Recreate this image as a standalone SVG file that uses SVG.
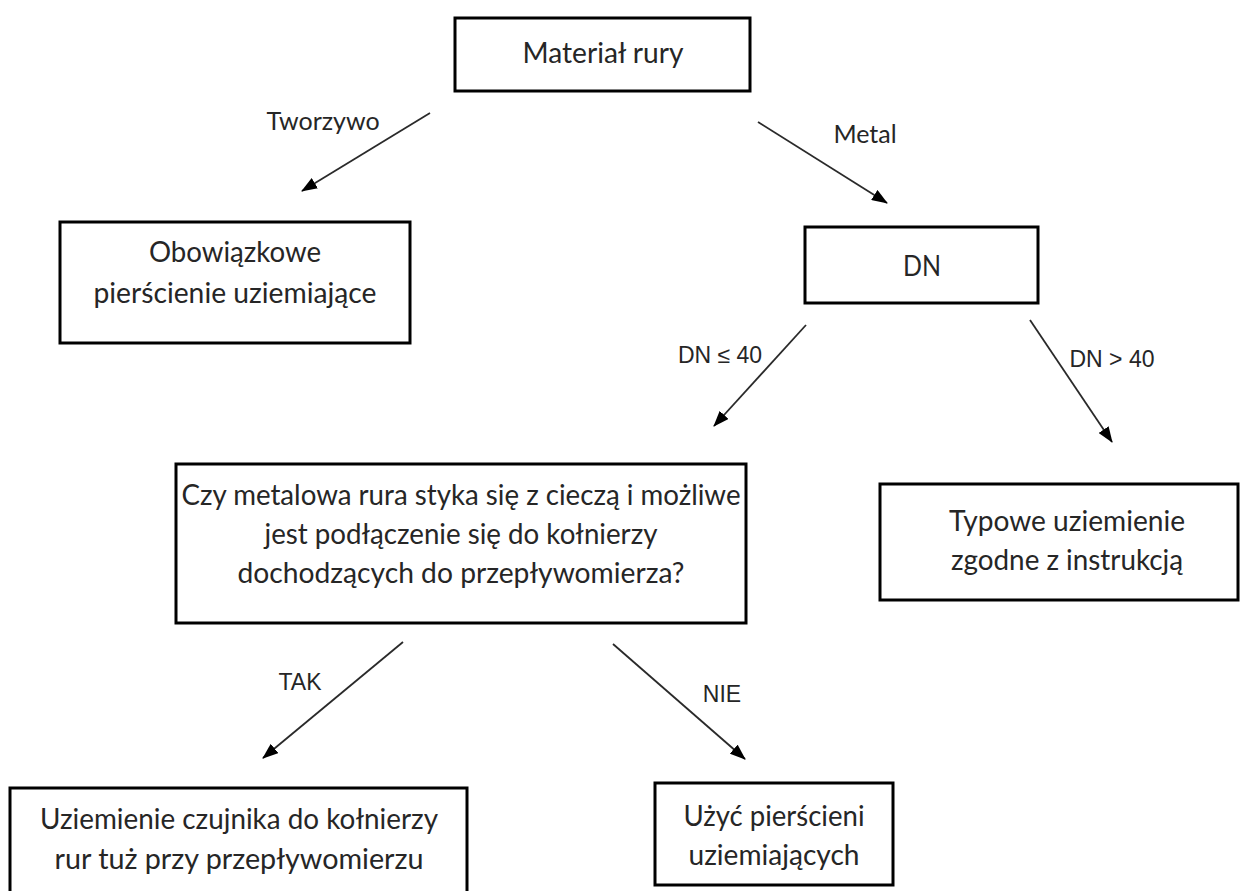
<svg xmlns="http://www.w3.org/2000/svg" width="1241" height="891" viewBox="0 0 1241 891">
<defs>
<marker id="ah" viewBox="0 0 16 12" refX="15" refY="6" markerWidth="16" markerHeight="12" markerUnits="userSpaceOnUse" orient="auto">
<path d="M0,0 L16,6 L0,12 Z" fill="#000"/>
</marker>
<style>
.box{fill:#fff;stroke:#000;stroke-width:3}
.t{font-family:Lato,"Liberation Sans",Arial,sans-serif;font-size:28px;fill:#262626;text-anchor:middle}
.l{font-family:Lato,"Liberation Sans",Arial,sans-serif;font-size:25px;fill:#262626;text-anchor:middle}
.a{font-family:"Liberation Sans",Arial,sans-serif;font-size:23px;fill:#262626;text-anchor:middle}
.c{stroke:#2a2a2a;stroke-width:1.8;fill:none;marker-end:url(#ah)}
</style>
</defs>
<rect width="1241" height="891" fill="#fff"/>
<g id="connectors">
<line class="c" x1="430" y1="113" x2="302" y2="191"/>
<line class="c" x1="758" y1="122" x2="887" y2="203"/>
<line class="c" x1="806" y1="325" x2="714" y2="426"/>
<line class="c" x1="1030" y1="320" x2="1112" y2="442"/>
<line class="c" x1="403" y1="642" x2="263" y2="758"/>
<line class="c" x1="613" y1="644" x2="745" y2="759"/>
<text class="l" x="323" y="130">Tworzywo</text>
<text class="l" x="865" y="143">Metal</text>
<text class="a" x="720" y="363">DN ≤ 40</text>
<text class="a" x="1112" y="367">DN &gt; 40</text>
<text class="a" x="300" y="690">TAK</text>
<text class="a" x="722" y="702">NIE</text>
</g>
<g id="n1">
<rect class="box" x="455" y="18" width="295" height="73"/>
<text class="t" x="603" y="63" textLength="161" lengthAdjust="spacingAndGlyphs">Materiał rury</text>
</g>
<g id="n2">
<rect class="box" x="60" y="222" width="350" height="121"/>
<text class="t" x="235" y="262" textLength="172" lengthAdjust="spacingAndGlyphs">Obowiązkowe</text>
<text class="t" x="235" y="303" textLength="283" lengthAdjust="spacingAndGlyphs">pierścienie uziemiające</text>
</g>
<g id="n3">
<rect class="box" x="805" y="227" width="233" height="76"/>
<text class="t" x="922" y="276" textLength="38" lengthAdjust="spacingAndGlyphs">DN</text>
</g>
<g id="n4">
<rect class="box" x="176" y="464" width="570" height="159"/>
<text class="t" x="461" y="505" textLength="559" lengthAdjust="spacingAndGlyphs">Czy metalowa rura styka się z cieczą i możliwe</text>
<text class="t" x="461" y="544" textLength="393" lengthAdjust="spacingAndGlyphs">jest podłączenie się do kołnierzy</text>
<text class="t" x="461" y="583" textLength="447" lengthAdjust="spacingAndGlyphs">dochodzących do przepływomierza?</text>
</g>
<g id="n5">
<rect class="box" x="880" y="484" width="358" height="116"/>
<text class="t" x="1067" y="531" textLength="236" lengthAdjust="spacingAndGlyphs">Typowe uziemienie</text>
<text class="t" x="1067" y="570" textLength="232" lengthAdjust="spacingAndGlyphs">zgodne z instrukcją</text>
</g>
<g id="n6">
<rect class="box" x="10" y="788" width="457" height="120"/>
<text class="t" x="239" y="829" textLength="398" lengthAdjust="spacingAndGlyphs">Uziemienie czujnika do kołnierzy</text>
<text class="t" x="239" y="869" textLength="369" lengthAdjust="spacingAndGlyphs">rur tuż przy przepływomierzu</text>
</g>
<g id="n7">
<rect class="box" x="655" y="783" width="238" height="102"/>
<text class="t" x="774" y="826" textLength="181" lengthAdjust="spacingAndGlyphs">Użyć pierścieni</text>
<text class="t" x="774" y="865" textLength="171" lengthAdjust="spacingAndGlyphs">uziemiających</text>
</g>
</svg>
